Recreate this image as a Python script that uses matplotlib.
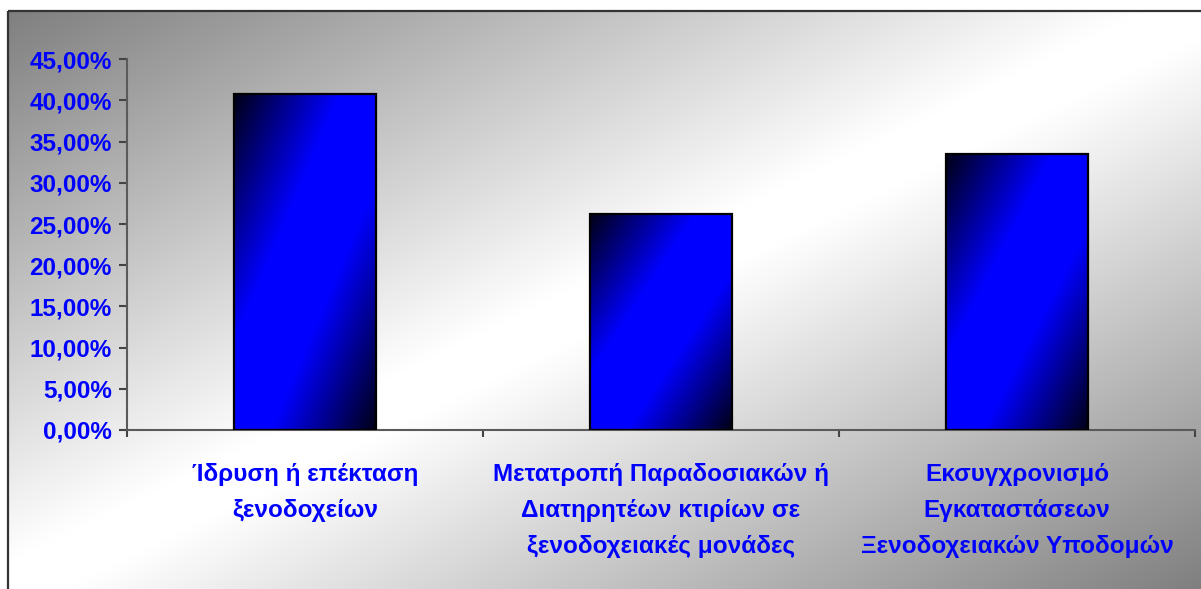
import numpy as np
import matplotlib
matplotlib.use("Agg")
import matplotlib.pyplot as plt
from matplotlib.ticker import FuncFormatter, FixedLocator
from matplotlib import font_manager as fm

categories = [
    "Ίδρυση ή επέκταση\nξενοδοχείων",
    "Μετατροπή Παραδοσιακών ή\nΔιατηρητέων κτιρίων σε\nξενοδοχειακές μονάδες",
    "Εκσυγχρονισμό\nΕγκαταστάσεων\nΞενοδοχειακών Υποδομών",
]
values = [40.8, 26.2, 33.5]
yticks = [0, 5, 10, 15, 20, 25, 30, 35, 40, 45]

names = {f.name for f in fm.fontManager.ttflist}
fam = ["Liberation Sans Narrow", "Liberation Sans", "DejaVu Sans"]
narrow = "Liberation Sans Narrow" in names
fam = [f for f in fam if f in names] + ["DejaVu Sans"]
plt.rcParams["font.family"] = fam
plt.rcParams["font.weight"] = "bold"
fs = 20 if narrow else 17.5
ls = 1.4 if narrow else 1.72

W, H = 1201, 589
fig = plt.figure(figsize=(W / 100, H / 100), dpi=100)
fig.patch.set_facecolor("white")

# background gradient (figure)
bg = fig.add_axes([0, 0, 1, 1], zorder=0)
bg.set_axis_off()
n = 300
u = np.linspace(0, 1, n)[None, :]
v = np.linspace(0, 1, n)[:, None]
s = 1 - np.abs(u + v - 1)
g = 0.5 + 0.5 * np.clip(s * 1.05, 0, 1)
img = np.dstack([g, g, g])
bg.imshow(img, extent=[8 / W, 1.0, 0, 1 - 11 / H], aspect="auto",
          origin="upper", transform=bg.transAxes, interpolation="bilinear")
bg.set_xlim(0, 1)
bg.set_ylim(0, 1)
bg.plot([8 / W, 8 / W], [0, 1 - 11 / H], color="#333333", lw=1.6,
        transform=bg.transAxes, solid_capstyle="butt")
bg.plot([8 / W, 1], [1 - 11 / H, 1 - 11 / H], color="#333333", lw=1.6,
        transform=bg.transAxes, solid_capstyle="butt")

ax = fig.add_axes([127 / W, 1 - 430 / H, (1195 - 127) / W, (430 - 59.3) / H], zorder=1)
ax.patch.set_alpha(0)

x = np.arange(len(categories))
bw = 0.40
bars = ax.bar(x, values, width=bw, color="none", edgecolor="black", linewidth=1.6, zorder=3)

nb = 200
bu = np.linspace(0, 1, nb)[None, :]
bv = np.linspace(0, 1, nb)[:, None]
I = np.clip(1.35 * (1 - np.abs(bu + bv - 1)), 0, 1)
I = 0.08 + 0.92 * I
bimg = np.dstack([np.zeros_like(I), np.zeros_like(I), I])
for b in bars:
    x0, y0, w, h = b.get_x(), b.get_y(), b.get_width(), b.get_height()
    ax.imshow(bimg, extent=[x0, x0 + w, y0, y0 + h], origin="upper",
              aspect="auto", zorder=2, interpolation="bilinear")

ax.set_xlim(-0.5, 2.5)
ax.set_ylim(0, 45)
ax.set_yticks(yticks)
ax.yaxis.set_major_formatter(FuncFormatter(lambda val, p: f"{val:.2f}".replace(".", ",") + "%"))
ax.set_xticks(x)
ax.set_xticklabels(categories, linespacing=ls)
ax.xaxis.set_minor_locator(FixedLocator([-0.5, 0.5, 1.5, 2.5]))

for sp in ["top", "right"]:
    ax.spines[sp].set_visible(False)
for sp in ["left", "bottom"]:
    ax.spines[sp].set_color("#5a5a5a")
    ax.spines[sp].set_linewidth(1.5)

ax.tick_params(axis="y", direction="out", length=6, width=1.5, color="#444444",
               labelsize=fs, labelcolor="#0000FF", pad=5)
ax.tick_params(axis="x", which="major", length=0, labelsize=fs,
               labelcolor="#0000FF", pad=24)
ax.tick_params(axis="x", which="minor", direction="out", length=5, width=1.5,
               color="#444444")
for lab in ax.get_xticklabels() + ax.get_yticklabels():
    lab.set_fontweight("bold")

fig.savefig("out.png", dpi=100)
